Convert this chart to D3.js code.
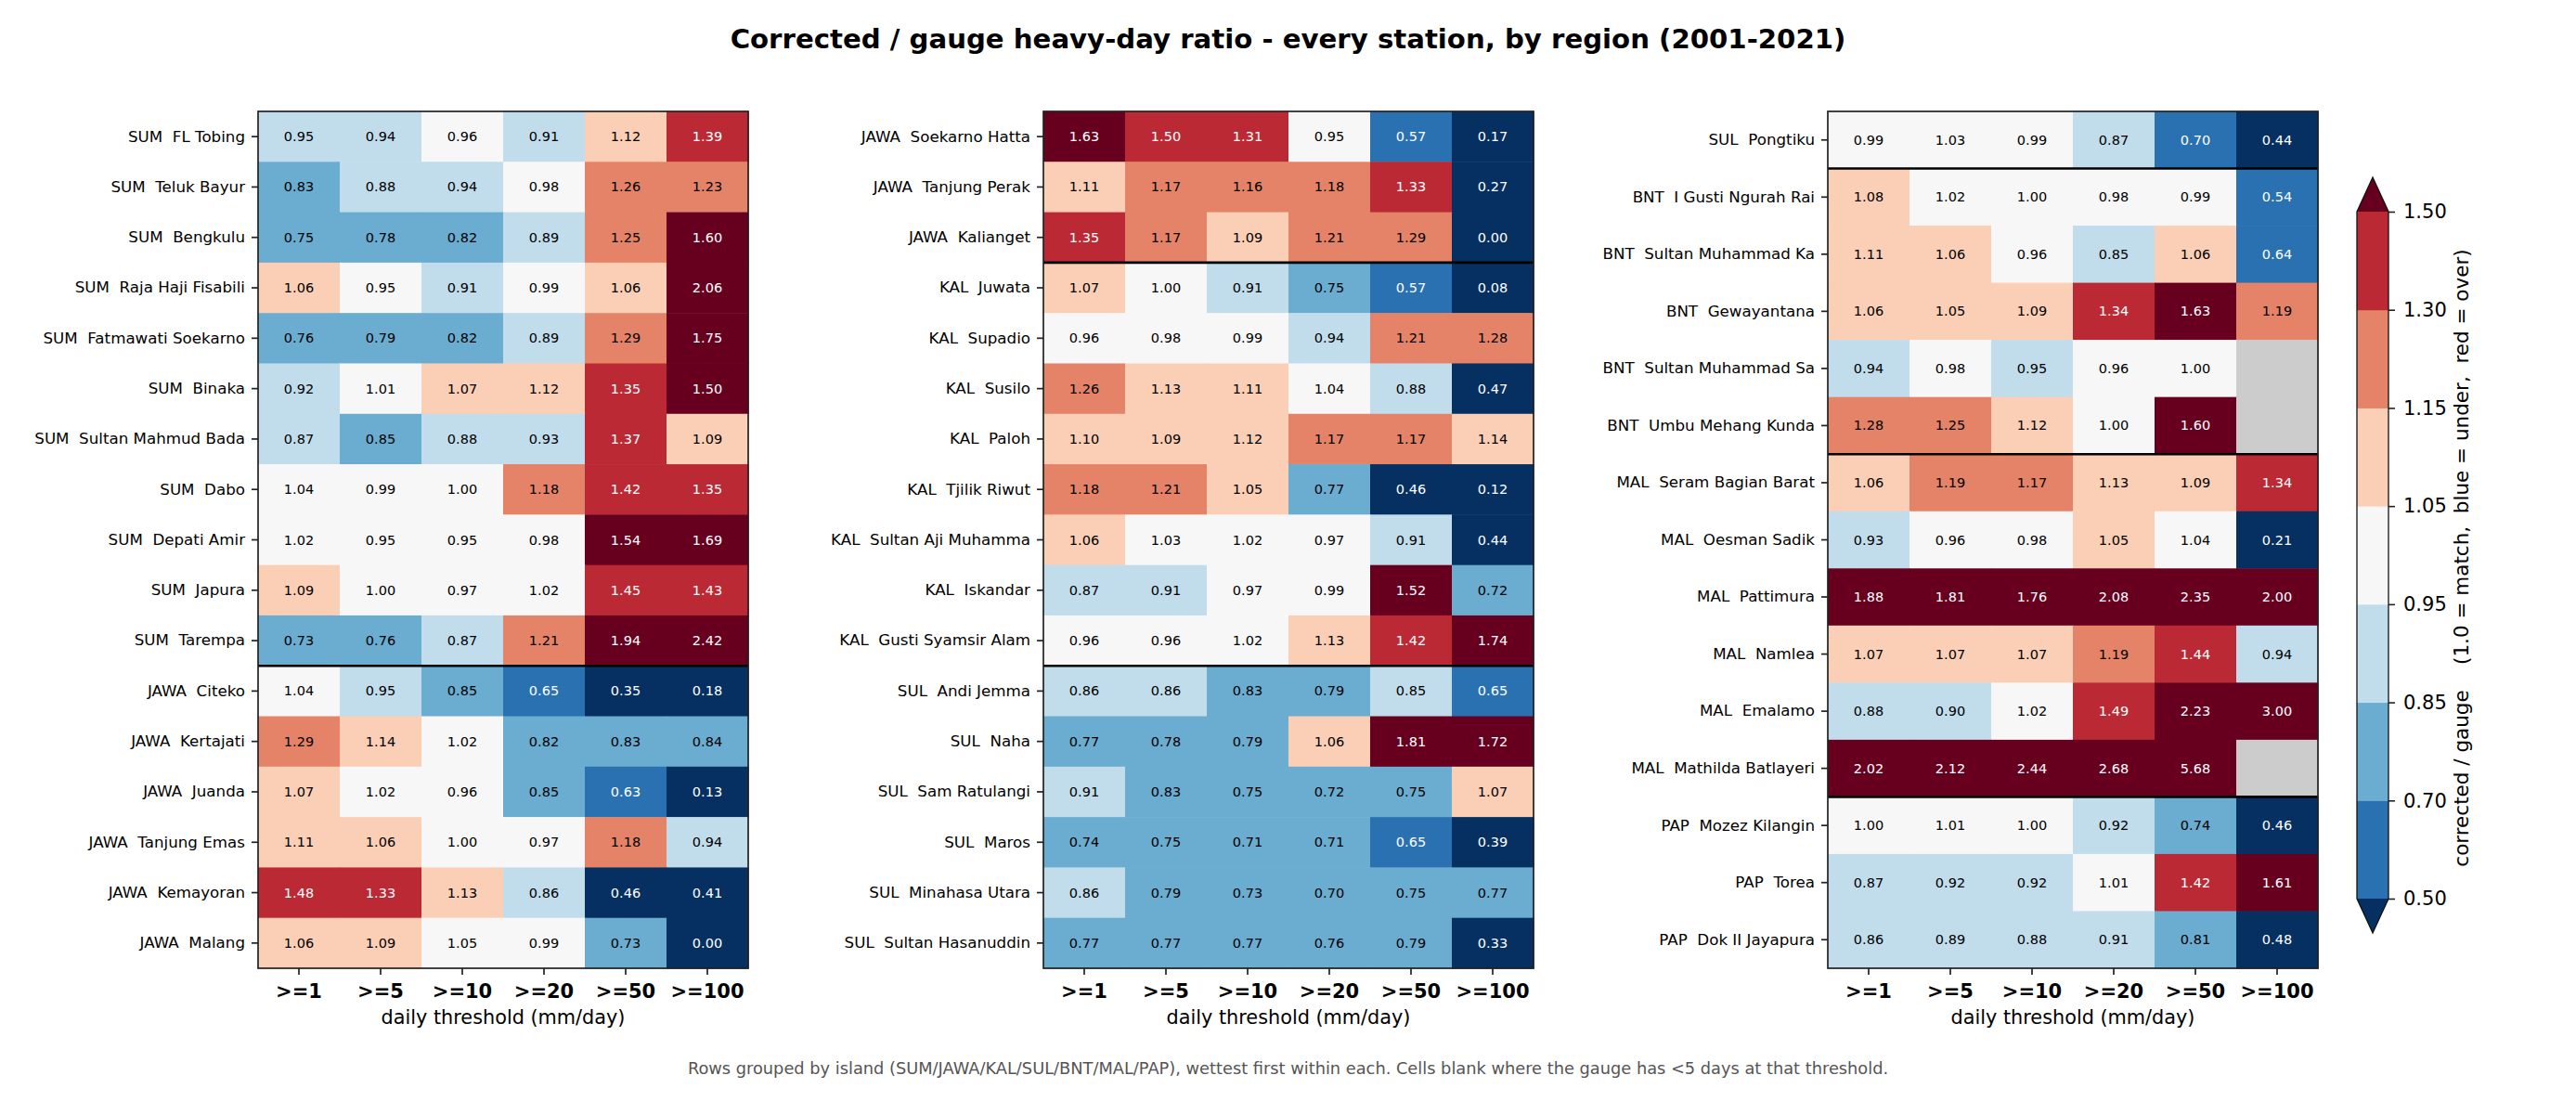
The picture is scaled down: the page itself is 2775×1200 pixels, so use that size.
<!DOCTYPE html>
<html>
<head>
<meta charset="utf-8">
<script src="https://cdn.jsdelivr.net/npm/d3@7"></script>
<style>
  html, body { margin: 0; padding: 0; background: #fff; }
  svg { display: block; font-family: "DejaVu Sans", sans-serif; }
  text { white-space: pre; }
</style>
</head>
<body>
<svg id="chart" width="2775" height="1200"></svg>
<script>
// ---------------- data ----------------
const thresholds = [">=1", ">=5", ">=10", ">=20", ">=50", ">=100"];

const bounds = [0.5, 0.7, 0.85, 0.95, 1.05, 1.15, 1.3, 1.5];
const binColors = ["#053061", "#2a71b2", "#6bacd1", "#c1ddeb", "#f7f7f7",
                   "#fbceb6", "#e58368", "#bb2a34", "#67001f"];
const missingColor = "#cccccc";

const panel1Stations = [
  "SUM  FL Tobing", "SUM  Teluk Bayur", "SUM  Bengkulu", "SUM  Raja Haji Fisabili",
  "SUM  Fatmawati Soekarno", "SUM  Binaka", "SUM  Sultan Mahmud Bada", "SUM  Dabo",
  "SUM  Depati Amir", "SUM  Japura", "SUM  Tarempa",
  "JAWA  Citeko", "JAWA  Kertajati", "JAWA  Juanda", "JAWA  Tanjung Emas",
  "JAWA  Kemayoran", "JAWA  Malang"
];
const panel1Values = [
  [0.949, 0.94, 0.96, 0.91, 1.12, 1.39],
  [0.83, 0.88, 0.94, 0.98, 1.26, 1.23],
  [0.75, 0.78, 0.82, 0.89, 1.25, 1.60],
  [1.06, 0.95, 0.91, 0.99, 1.06, 2.06],
  [0.76, 0.79, 0.82, 0.89, 1.29, 1.75],
  [0.92, 1.01, 1.07, 1.12, 1.35, 1.50],
  [0.87, 0.849, 0.88, 0.93, 1.37, 1.09],
  [1.04, 0.99, 1.00, 1.18, 1.42, 1.35],
  [1.02, 0.95, 0.95, 0.98, 1.54, 1.69],
  [1.09, 1.00, 0.97, 1.02, 1.45, 1.43],
  [0.73, 0.76, 0.87, 1.21, 1.94, 2.42],
  [1.04, 0.949, 0.849, 0.65, 0.35, 0.18],
  [1.29, 1.14, 1.02, 0.82, 0.83, 0.84],
  [1.07, 1.02, 0.96, 0.849, 0.63, 0.13],
  [1.11, 1.06, 1.00, 0.97, 1.18, 0.94],
  [1.48, 1.33, 1.13, 0.86, 0.46, 0.41],
  [1.06, 1.09, 1.049, 0.99, 0.73, 0.00]
];

const panel2Stations = [
  "JAWA  Soekarno Hatta", "JAWA  Tanjung Perak", "JAWA  Kalianget",
  "KAL  Juwata", "KAL  Supadio", "KAL  Susilo", "KAL  Paloh", "KAL  Tjilik Riwut",
  "KAL  Sultan Aji Muhamma", "KAL  Iskandar", "KAL  Gusti Syamsir Alam",
  "SUL  Andi Jemma", "SUL  Naha", "SUL  Sam Ratulangi", "SUL  Maros",
  "SUL  Minahasa Utara", "SUL  Sultan Hasanuddin"
];
const panel2Values = [
  [1.63, 1.499, 1.31, 0.95, 0.57, 0.17],
  [1.11, 1.17, 1.16, 1.18, 1.33, 0.27],
  [1.35, 1.17, 1.09, 1.21, 1.29, 0.00],
  [1.07, 1.00, 0.91, 0.75, 0.57, 0.08],
  [0.96, 0.98, 0.99, 0.94, 1.21, 1.28],
  [1.26, 1.13, 1.11, 1.04, 0.88, 0.47],
  [1.10, 1.09, 1.12, 1.17, 1.17, 1.14],
  [1.18, 1.21, 1.05, 0.77, 0.46, 0.12],
  [1.06, 1.03, 1.02, 0.97, 0.91, 0.44],
  [0.87, 0.91, 0.97, 0.99, 1.52, 0.72],
  [0.96, 0.96, 1.02, 1.13, 1.42, 1.74],
  [0.86, 0.86, 0.83, 0.79, 0.85, 0.65],
  [0.77, 0.78, 0.79, 1.06, 1.81, 1.72],
  [0.91, 0.83, 0.75, 0.72, 0.75, 1.07],
  [0.74, 0.75, 0.71, 0.71, 0.65, 0.39],
  [0.86, 0.79, 0.73, 0.70, 0.75, 0.77],
  [0.77, 0.77, 0.77, 0.76, 0.79, 0.33]
];

const panel3Stations = [
  "SUL  Pongtiku",
  "BNT  I Gusti Ngurah Rai", "BNT  Sultan Muhammad Ka", "BNT  Gewayantana",
  "BNT  Sultan Muhammad Sa", "BNT  Umbu Mehang Kunda",
  "MAL  Seram Bagian Barat", "MAL  Oesman Sadik", "MAL  Pattimura", "MAL  Namlea",
  "MAL  Emalamo", "MAL  Mathilda Batlayeri",
  "PAP  Mozez Kilangin", "PAP  Torea", "PAP  Dok II Jayapura"
];
const panel3Values = [
  [0.99, 1.03, 0.99, 0.87, 0.699, 0.44],
  [1.08, 1.02, 1.00, 0.98, 0.99, 0.54],
  [1.11, 1.06, 0.96, 0.85, 1.06, 0.64],
  [1.06, 1.05, 1.09, 1.34, 1.63, 1.19],
  [0.94, 0.98, 0.949, 0.96, 1.00, null],
  [1.28, 1.25, 1.12, 1.00, 1.60, null],
  [1.06, 1.19, 1.17, 1.13, 1.09, 1.34],
  [0.93, 0.96, 0.98, 1.05, 1.04, 0.21],
  [1.88, 1.81, 1.76, 2.08, 2.35, 2.00],
  [1.07, 1.07, 1.07, 1.19, 1.44, 0.94],
  [0.88, 0.90, 1.02, 1.49, 2.23, 3.00],
  [2.02, 2.12, 2.44, 2.68, 5.68, null],
  [1.00, 1.01, 1.00, 0.92, 0.74, 0.46],
  [0.87, 0.92, 0.92, 1.01, 1.42, 1.61],
  [0.86, 0.89, 0.88, 0.91, 0.81, 0.48]
];

const titleText = "Corrected / gauge heavy-day ratio - every station, by region (2001-2021)";
const footerText = "Rows grouped by island (SUM/JAWA/KAL/SUL/BNT/MAL/PAP), wettest first within each. Cells blank where the gauge has <5 days at that threshold.";
const xLabelText = "daily threshold (mm/day)";
const cbarLabelText = "corrected / gauge    (1.0 = match,  blue = under,  red = over)";

// ---------------- layout ----------------
const svg = d3.select("#chart");
const panelLeft = [278, 1124, 1969];
const panelW = 528;
const plotTop = 120, plotBottom = 1043;

const color = d3.scaleThreshold().domain(bounds).range(binColors);
const fmt = d3.format(".2f");

svg.append("rect").attr("width", 2775).attr("height", 1200).attr("fill", "#fff");

svg.append("text")
  .attr("x", 1387.5).attr("y", 52)
  .attr("text-anchor", "middle")
  .attr("font-size", 29.2).attr("font-weight", "bold")
  .text(titleText);

svg.append("text")
  .attr("x", 1387.5).attr("y", 1157)
  .attr("text-anchor", "middle")
  .attr("font-size", 17.8).attr("fill", "#555")
  .text(footerText);

const panels = [
  [panel1Stations, panel1Values],
  [panel2Stations, panel2Values],
  [panel3Stations, panel3Values]
];

panels.forEach(([stations, values], pi) => {
  const x0 = panelLeft[pi];
  const x = d3.scaleBand().domain(thresholds).range([x0, x0 + panelW]);
  const y = d3.scaleBand().domain(stations).range([plotTop, plotBottom]);
  const g = svg.append("g");

  const cells = [];
  stations.forEach((s, r) => thresholds.forEach((t, c) => cells.push({ s, t, v: values[r][c] })));

  g.selectAll("rect.cell").data(cells).join("rect")
    .attr("class", "cell")
    .attr("x", d => x(d.t)).attr("y", d => y(d.s))
    .attr("width", x.bandwidth() + 0.5).attr("height", y.bandwidth() + 0.5)
    .attr("fill", d => d.v == null ? missingColor : color(d.v));

  g.selectAll("text.val").data(cells.filter(d => d.v != null)).join("text")
    .attr("class", "val")
    .attr("x", d => x(d.t) + x.bandwidth() / 2)
    .attr("y", d => y(d.s) + y.bandwidth() / 2)
    .attr("text-anchor", "middle").attr("dominant-baseline", "central")
    .attr("font-size", 14.5)
    .attr("fill", d => (d.v < 0.7 || d.v > 1.3) ? "#fff" : "#000")
    .text(d => fmt(d.v));

  // group separators
  const seps = [];
  for (let i = 1; i < stations.length; i++) {
    if (stations[i].split(" ")[0] !== stations[i - 1].split(" ")[0]) seps.push(stations[i]);
  }
  g.selectAll("line.sep").data(seps).join("line")
    .attr("x1", x0).attr("x2", x0 + panelW)
    .attr("y1", d => y(d)).attr("y2", d => y(d))
    .attr("stroke", "#000").attr("stroke-width", 2.6);

  // frame
  g.append("rect")
    .attr("x", x0).attr("y", plotTop).attr("width", panelW).attr("height", plotBottom - plotTop)
    .attr("fill", "none").attr("stroke", "#222").attr("stroke-width", 1.7);

  // y axis
  const ya = g.append("g").attr("transform", `translate(${x0},0)`)
    .call(d3.axisLeft(y).tickSize(7).tickPadding(7));
  ya.select(".domain").remove();
  ya.selectAll("line").attr("stroke", "#222").attr("stroke-width", 1.7);
  ya.selectAll("text").attr("font-size", 16.7).attr("fill", "#000")
    .attr("font-family", "DejaVu Sans");

  // x axis
  const xa = g.append("g").attr("transform", `translate(0,${plotBottom})`)
    .call(d3.axisBottom(x).tickSize(7).tickPadding(0));
  xa.select(".domain").remove();
  xa.selectAll("line").attr("stroke", "#222").attr("stroke-width", 1.7);
  xa.selectAll("text").attr("font-size", 21).attr("font-weight", "bold")
    .attr("fill", "#000").attr("font-family", "DejaVu Sans")
    .attr("dy", null).attr("y", 32);

  g.append("text")
    .attr("x", x0 + panelW / 2).attr("y", 1103)
    .attr("text-anchor", "middle").attr("font-size", 20.8)
    .text(xLabelText);
});

// ---------------- colorbar ----------------
const cbX0 = 2539, cbX1 = 2573, cbTop = 228, cbBot = 968, ext = 37;
const cbY = d3.scalePoint().domain(bounds).range([cbBot, cbTop]);
const cb = svg.append("g");
const segs = d3.range(bounds.length - 1).map(i => ({ lo: bounds[i], hi: bounds[i + 1], c: binColors[i + 1] }));
cb.selectAll("rect").data(segs).join("rect")
  .attr("x", cbX0).attr("width", cbX1 - cbX0)
  .attr("y", d => cbY(d.hi)).attr("height", d => cbY(d.lo) - cbY(d.hi) + 0.5)
  .attr("fill", d => d.c);
const mid = (cbX0 + cbX1) / 2;
cb.append("path")
  .attr("d", `M${cbX0},${cbTop} L${mid},${cbTop - ext} L${cbX1},${cbTop} Z`)
  .attr("fill", binColors[binColors.length - 1]);
cb.append("path")
  .attr("d", `M${cbX0},${cbBot} L${mid},${cbBot + ext} L${cbX1},${cbBot} Z`)
  .attr("fill", binColors[0]);
cb.append("path")
  .attr("d", `M${cbX0},${cbTop} L${mid},${cbTop - ext} L${cbX1},${cbTop} L${cbX1},${cbBot} L${mid},${cbBot + ext} L${cbX0},${cbBot} Z`)
  .attr("fill", "none").attr("stroke", "#111").attr("stroke-width", 1.3);

const cba = cb.append("g").attr("transform", `translate(${cbX1},0)`)
  .call(d3.axisRight(cbY).tickSize(7).tickPadding(9).tickFormat(d3.format(".2f")));
cba.select(".domain").remove();
cba.selectAll("line").attr("stroke", "#222").attr("stroke-width", 1.6);
cba.selectAll("text").attr("font-size", 21).attr("fill", "#000").attr("font-family", "DejaVu Sans");

svg.append("text")
  .attr("transform", `translate(2651,${(cbTop + cbBot) / 2 + 3}) rotate(-90)`)
  .attr("text-anchor", "middle").attr("dominant-baseline", "central")
  .attr("font-size", 21.5)
  .text(cbarLabelText);
</script>
</body>
</html>
